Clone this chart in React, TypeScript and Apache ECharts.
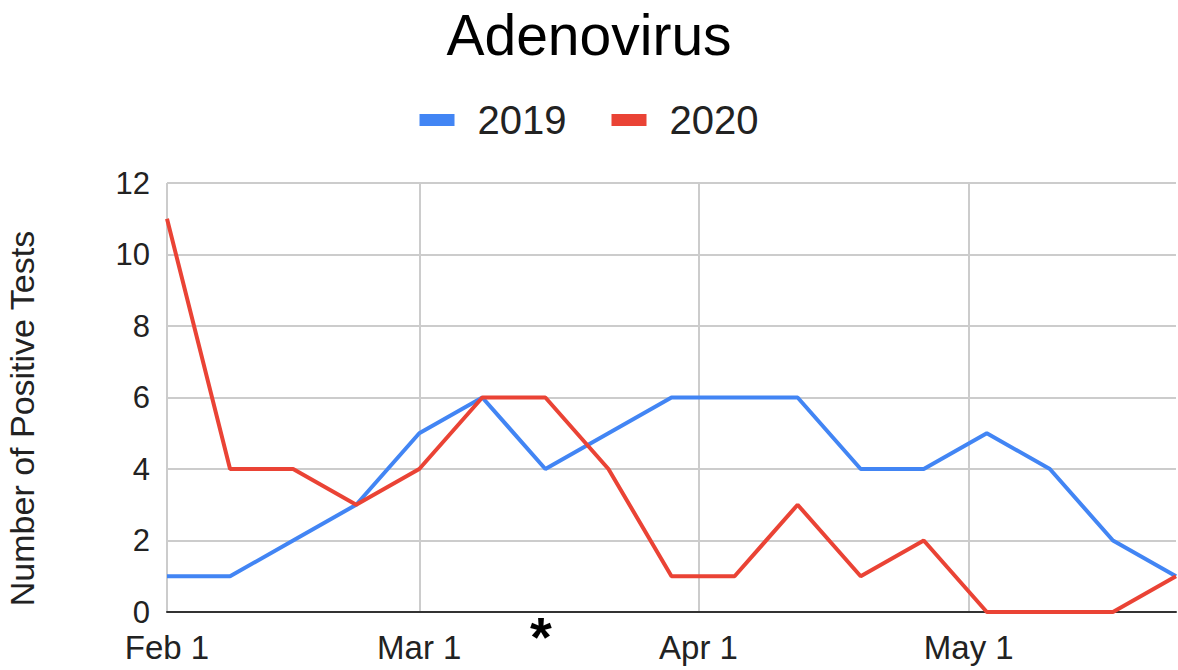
import React, { useEffect, useRef } from "react";
import * as echarts from "echarts";

const weekDays = [0, 7, 14, 21, 28, 35, 42, 49, 56, 63, 70, 77, 84, 91, 98, 105, 112];
const tickDays = [0, 28, 59, 89];
const tickLabels = ["Feb 1", "Mar 1", "Apr 1", "May 1"];
const values2019 = [1, 1, 2, 3, 5, 6, 4, 5, 6, 6, 6, 4, 4, 5, 4, 2, 1];
const values2020 = [11, 4, 4, 3, 4, 6, 6, 4, 1, 1, 3, 1, 2, 0, 0, 0, 1];
const seriesNames = ["2019", "2020"];

const FONT = "'Liberation Sans', Arial, Helvetica, sans-serif";

export default function App() {
  const ref = useRef<HTMLDivElement>(null);
  useEffect(() => {
    document.body.style.margin = "0";
    const chart = echarts.init(ref.current!, undefined, { renderer: "svg" });
    const mk = (vals: number[]) => weekDays.map((d, i) => [d, vals[i]]);
    chart.setOption({
      animation: false,
      backgroundColor: "#ffffff",
      title: {
        text: "Adenovirus",
        left: "center",
        top: 1,
        textStyle: { fontFamily: FONT, fontSize: 57, fontWeight: "normal", color: "#000000" },
      },
      legend: {
        top: 95,
        left: "center",
        icon: "rect",
        itemWidth: 35,
        itemHeight: 12,
        itemGap: 45,
        data: seriesNames,
        textStyle: { fontFamily: FONT, fontSize: 40, color: "#222222", padding: [0, 0, 0, 18] },
      },
      grid: { left: 167, right: 2, top: 183, bottom: 58, containLabel: false, outerBoundsMode: "none" },
      xAxis: {
        type: "value",
        min: 0,
        max: 112,
        axisLine: { show: true, lineStyle: { color: "#333333", width: 2 } },
        axisTick: { show: false, customValues: tickDays },
        axisLabel: {
          customValues: tickDays,
          formatter: (v: number) => tickLabels[tickDays.indexOf(v)] ?? "",
          fontFamily: FONT,
          fontSize: 33,
          color: "#222222",
          margin: 19,
        },
        splitLine: { show: true, lineStyle: { color: "#cccccc", width: 2 } },
      },
      yAxis: {
        type: "value",
        min: 0,
        max: 12,
        interval: 2,
        name: "Number of Positive Tests",
        nameLocation: "middle",
        nameGap: 128,
        nameTextStyle: { fontFamily: FONT, fontSize: 34, color: "#222222", padding: [0, 42, 0, 0] },
        axisLine: { show: false },
        axisTick: { show: false },
        axisLabel: { fontFamily: FONT, fontSize: 31, color: "#222222", margin: 17 },
        splitLine: { show: true, lineStyle: { color: "#cccccc", width: 2 } },
      },
      series: [
        {
          name: seriesNames[0],
          type: "line",
          data: mk(values2019),
          symbol: "none",
          lineStyle: { color: "#4285F4", width: 4 },
          itemStyle: { color: "#4285F4" },
        },
        {
          name: seriesNames[1],
          type: "line",
          data: mk(values2020),
          symbol: "none",
          lineStyle: { color: "#EA4335", width: 4 },
          itemStyle: { color: "#EA4335" },
        },
      ],
      graphic: [
        {
          type: "text",
          x: 541,
          y: 636,
          style: {
            text: "*",
            fontFamily: FONT,
            fontSize: 56,
            fontWeight: "bold",
            fill: "#000000",
            align: "center",
            verticalAlign: "middle",
            lineHeight: 44,
          },
        },
      ],
    });
    return () => chart.dispose();
  }, []);
  return <div ref={ref} style={{ width: 1178, height: 670 }} />;
}
